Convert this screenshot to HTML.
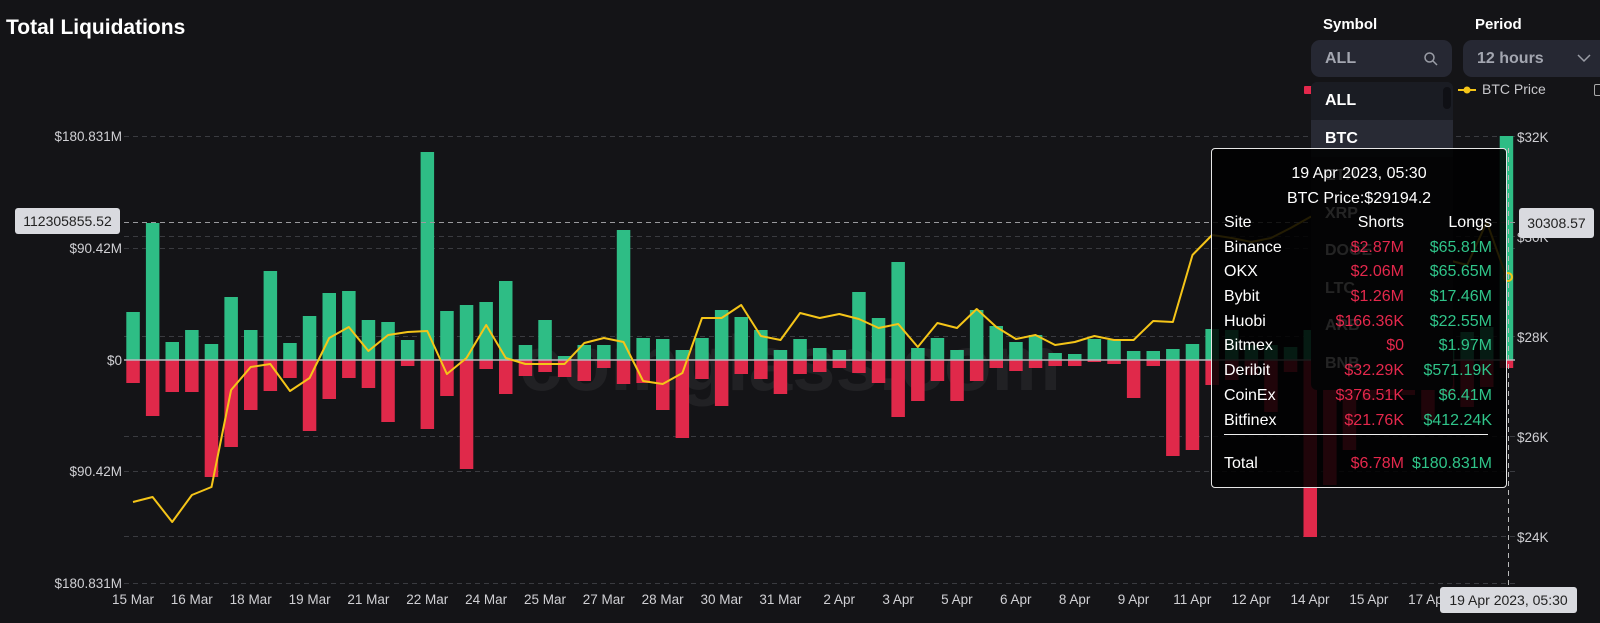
<!DOCTYPE html>
<html><head><meta charset="utf-8"><style>
html,body{margin:0;padding:0;background:#141417;width:1600px;height:623px;overflow:hidden;font-family:"Liberation Sans",Arial,sans-serif}
.abs{position:absolute}
#title{left:6px;top:16px;color:#fff;font-weight:bold;font-size:21px}
.lbl{color:#fff;font-weight:bold;font-size:15px}
.box{background:#262833;border-radius:9px;color:#a3a6b0;font-weight:bold;font-size:16px;box-sizing:border-box;padding-left:14px;line-height:37px}
#dd{left:1311px;top:82px;width:142px;height:308px;background:#1c1e26;border-radius:6px;overflow:hidden}
#dd div{height:37.5px;line-height:37.5px;padding-left:14px;font-weight:bold;font-size:16px;color:#fff}
#tt{left:1211px;top:148px;width:296px;height:340px;background:rgba(0,0,0,0.86);border:1px solid #e6e6e6;border-radius:4px;box-sizing:border-box;color:#fff;font-size:16px}
#tt .r{position:absolute;left:12px;right:14px;height:20px}
#tt .r span{position:absolute}
.s{right:88px;color:#e4284c}.l{right:0;color:#2fc489}
.tag{background:#d9dadf;color:#222;font-size:14px;border-radius:3px;text-align:center}
</style></head><body>
<svg class="abs" style="left:0;top:0" width="1600" height="623" xmlns="http://www.w3.org/2000/svg" id="ch">
<g stroke="#3a3b40" stroke-dasharray="5,4" stroke-width="1">
<line x1="124" x2="1515" y1="136.5" y2="136.5"/><line x1="124" x2="1515" y1="236.5" y2="236.5"/>
<line x1="124" x2="1515" y1="248.5" y2="248.5"/><line x1="124" x2="1515" y1="336.5" y2="336.5"/>
<line x1="124" x2="1515" y1="436.5" y2="436.5"/><line x1="124" x2="1515" y1="471.5" y2="471.5"/>
<line x1="124" x2="1515" y1="536.5" y2="536.5"/><line x1="124" x2="1515" y1="583.5" y2="583.5"/>
</g>
<text x="790" y="390" text-anchor="middle" font-size="78" font-weight="bold" fill="#ffffff" fill-opacity="0.06" font-family="Liberation Sans,sans-serif">coinglass.com</text>
<g id="bars"></g>
<line x1="124" x2="1515" y1="360" y2="360" stroke="#b8b8bc" stroke-width="1.5"/>
<polyline id="ln" fill="none" stroke="#f5c518" stroke-width="2" stroke-linejoin="round"/>
<circle cx="1508" cy="277" r="4" fill="none" stroke="#f5c518" stroke-width="2"/>
<line x1="124" x2="1515" y1="222.5" y2="222.5" stroke="#9a9a9e" stroke-dasharray="5,4"/>
<line x1="1508.5" x2="1508.5" y1="148" y2="587" stroke="#bbb" stroke-dasharray="5,4"/>
<g font-size="13.5" fill="#d0d0d4" font-family="Liberation Sans,sans-serif" text-anchor="end">
<text x="122" y="141">$180.831M</text><text x="122" y="253">$90.42M</text><text x="122" y="365">$0</text>
<text x="122" y="476">$90.42M</text><text x="122" y="588">$180.831M</text>
</g>
<g font-size="13.5" fill="#d0d0d4" font-family="Liberation Sans,sans-serif">
<text x="1517" y="142">$32K</text><text x="1517" y="242">$30K</text><text x="1517" y="342">$28K</text>
<text x="1517" y="442">$26K</text><text x="1517" y="542">$24K</text>
</g>
<g id="xl" font-size="13.5" fill="#d0d0d4" font-family="Liberation Sans,sans-serif" text-anchor="middle"></g>
</svg>
<div id="title" class="abs">Total Liquidations</div>
<div class="abs lbl" style="left:1323px;top:16px">Symbol</div>
<div class="abs lbl" style="left:1475px;top:16px">Period</div>
<div class="abs box" style="left:1311px;top:40px;width:141px;height:37px">ALL
<svg class="abs" style="left:112px;top:11px" width="16" height="16"><circle cx="6.5" cy="6.5" r="4.5" fill="none" stroke="#9a9da6" stroke-width="1.5"/><line x1="10" y1="10" x2="14" y2="14" stroke="#9a9da6" stroke-width="1.5"/></svg></div>
<div class="abs box" style="left:1463px;top:40px;width:160px;height:37px">12 hours
<svg class="abs" style="left:114px;top:13px" width="14" height="10"><polyline points="1,2 7,8 13,2" fill="none" stroke="#9a9da6" stroke-width="1.5"/></svg></div>
<div class="abs" style="left:1304px;top:86px;width:8px;height:8px;background:#e4284c;border-radius:1px"></div>
<svg class="abs" style="left:1458px;top:83px" width="20" height="14"><line x1="0" y1="7" x2="18" y2="7" stroke="#f5c518" stroke-width="2"/><circle cx="9" cy="7" r="3.5" fill="#f5c518"/></svg>
<div class="abs" style="left:1482px;top:81px;color:#c8c8cc;font-size:14px">BTC Price</div>
<div class="abs" style="left:1594px;top:84px;width:8px;height:10px;border:1px solid #aaa;border-radius:2px"></div>
<div id="dd" class="abs">
<div style="background:#1a1c23">ALL</div><div style="background:#282a34">BTC</div><div>ETH</div><div>XRP</div><div>DOGE</div><div>LTC</div><div>ARB</div><div>BNB</div>
<span class="abs" style="left:132px;top:5px;width:8px;height:22px;background:#0f1015;border-radius:4px"></span>
</div>
<div class="abs tag" style="left:15px;top:208px;width:105px;height:26px;line-height:26px">112305855.52</div>
<div class="abs tag" style="left:1519px;top:208px;width:75px;height:30px;line-height:30px">30308.57</div>
<div class="abs tag" style="left:1440px;top:587px;width:137px;height:26px;line-height:26px">19 Apr 2023, 05:30</div>
<div id="tt" class="abs">
<div class="abs" style="left:0;right:0;top:16px;text-align:center">19 Apr 2023, 05:30</div>
<div class="abs" style="left:0;right:0;top:41px;text-align:center">BTC Price:$29194.2</div>
<div class="r" style="top:65px"><span style="left:0">Site</span><span class="s" style="color:#fff">Shorts</span><span class="l" style="color:#fff">Longs</span></div>
<div class="r" style="top:90px"><span style="left:0">Binance</span><span class="s">$2.87M</span><span class="l">$65.81M</span></div>
<div class="r" style="top:114px"><span style="left:0">OKX</span><span class="s">$2.06M</span><span class="l">$65.65M</span></div>
<div class="r" style="top:139px"><span style="left:0">Bybit</span><span class="s">$1.26M</span><span class="l">$17.46M</span></div>
<div class="r" style="top:164px"><span style="left:0">Huobi</span><span class="s">$166.36K</span><span class="l">$22.55M</span></div>
<div class="r" style="top:188px"><span style="left:0">Bitmex</span><span class="s">$0</span><span class="l">$1.97M</span></div>
<div class="r" style="top:213px"><span style="left:0">Deribit</span><span class="s">$32.29K</span><span class="l">$571.19K</span></div>
<div class="r" style="top:238px"><span style="left:0">CoinEx</span><span class="s">$376.51K</span><span class="l">$6.41M</span></div>
<div class="r" style="top:263px"><span style="left:0">Bitfinex</span><span class="s">$21.76K</span><span class="l">$412.24K</span></div>
<div class="abs" style="left:12px;right:18px;top:285px;height:1px;background:#eee"></div>
<div class="r" style="top:306px"><span style="left:0">Total</span><span class="s">$6.78M</span><span class="l">$180.831M</span></div>
</div>
<script>
var T=[312,223,342,330,344,297,330,271,343,316,293,291,320,322,340,152,311,305,302,281,345,320,356,345,345,230,338,339,350,338,310,317,330,350,339,348,350,292,318,262,348,338,350,310,326,342,335,353,354,339,340,351,351,349,344,329,330,345,345,347,330,350,345,340,350,345,340,345,332,327,136];
var B=[383,416,392,392,477,447,410,391,378,431,399,378,388,422,366,429,396,469,369,394,376,372,377,381,368,384,383,410,438,379,406,374,379,394,374,372,368,373,383,417,401,381,401,381,368,371,368,366,366,362,364,398,366,456,450,385,380,375,412,372,537,485,450,400,395,395,420,395,407,387,368];
var L=[502,497,522,495,487,390,367,364,391,378,338,327,351,335,332,331,374,358,325,358,364,364,364,343,338,342,381,384,373,318,318,305,336,340,313,318,314,319,328,324,347,323,328,309,327,339,335,345,342,336,340,340,321,322,255,235,238,242,238,228,217,212,208,215,225,235,248,260,265,222,277];
var ns="http://www.w3.org/2000/svg",g=document.getElementById("bars"),s="",pts=[];
for(var i=0;i<71;i++){var c=133+i*19.62,x=(c-6.75).toFixed(1);
s+='<rect x="'+x+'" y="'+T[i]+'" width="13.5" height="'+(360-T[i])+'" fill="#2ebd85"/>';
s+='<rect x="'+x+'" y="360" width="13.5" height="'+(B[i]-360)+'" fill="#e0294a"/>';
pts.push(c.toFixed(1)+","+L[i]);}
g.innerHTML=s;document.getElementById("ln").setAttribute("points",pts.join(" "));
var d=["15 Mar","16 Mar","18 Mar","19 Mar","21 Mar","22 Mar","24 Mar","25 Mar","27 Mar","28 Mar","30 Mar","31 Mar","2 Apr","3 Apr","5 Apr","6 Apr","8 Apr","9 Apr","11 Apr","12 Apr","14 Apr","15 Apr","17 Apr"],t="";
for(var j=0;j<d.length;j++){t+='<text x="'+(133+j*58.85).toFixed(1)+'" y="604">'+d[j]+'</text>';}
document.getElementById("xl").innerHTML=t;
</script>
</body></html>
